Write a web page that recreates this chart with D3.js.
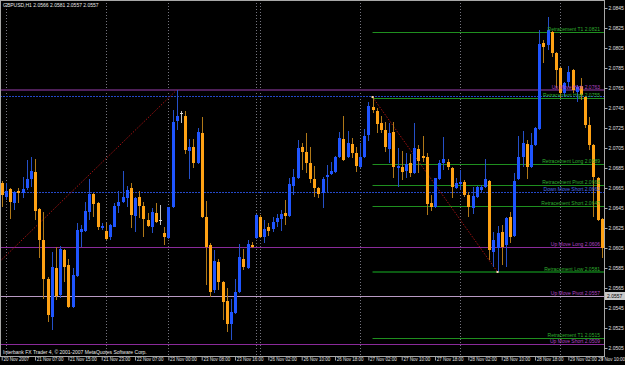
<!DOCTYPE html>
<html><head><meta charset="utf-8">
<script src="https://cdn.jsdelivr.net/npm/d3@7/dist/d3.min.js"></script>
<style>html,body{margin:0;padding:0;background:#000;overflow:hidden}svg{display:block}</style>
</head><body>
<svg id="c" width="625" height="365"></svg>
<script>
// ---------- DATA ----------
const symbolTitle = "GBPUSD,H1  2.0566 2.0581 2.0557 2.0557";
const copyright = "Interbank FX Trader 4, © 2001-2007 MetaQuotes Software Corp.";
const opens = [2.0670,2.0656,2.0664,2.0650,2.0662,2.0660,2.0665,2.0674,2.0681,2.0644,
2.0613,2.0574,2.0536,2.0585,2.0558,2.0603,2.0588,2.0546,2.0577,2.0621,
2.0622,2.0641,2.0659,2.0650,2.0625,2.0622,2.0616,2.0626,2.0647,2.0651,
2.0655,2.0665,2.0637,2.0656,2.0647,2.0633,2.0626,2.0640,2.0633,2.0620,
2.0615,2.0646,2.0732,2.0740,2.0737,2.0702,2.0706,2.0690,2.0720,2.0636,
2.0608,2.0563,2.0591,2.0571,2.0552,2.0529,2.0540,2.0561,2.0594,2.0585,
2.0608,2.0615,2.0636,2.0616,2.0626,2.0624,2.0631,2.0634,2.0640,2.0637,
2.0667,2.0675,2.0706,2.0701,2.0690,2.0674,2.0665,2.0660,2.0676,2.0679,
2.0681,2.0696,2.0714,2.0696,2.0709,2.0700,2.0686,2.0696,2.0718,2.0746,
2.0742,2.0730,2.0723,2.0704,2.0721,2.0685,2.0686,2.0682,2.0690,2.0680,
2.0704,2.0697,2.0696,2.0650,2.0646,2.0674,2.0690,2.0691,2.0685,2.0665,
2.0669,2.0671,2.0658,2.0645,2.0656,2.0663,2.0666,2.0672,2.0601,2.0605,
2.0621,2.0608,2.0636,2.0617,2.0674,2.0696,2.0709,2.0686,2.0708,2.0724,
2.0810,2.0808,2.0821,2.0800,2.0785,2.0760,2.0771,2.0783,2.0761,2.0767,
2.0756,2.0728,2.0708,2.0675,2.0634];
const highs = [2.0672,2.0670,2.0665,2.0662,2.0665,2.0676,2.0693,2.0696,2.0694,2.0645,
2.0641,2.0576,2.0601,2.0606,2.0607,2.0604,2.0594,2.0585,2.0630,2.0628,
2.0651,2.0674,2.0660,2.0651,2.0630,2.0630,2.0629,2.0650,2.0662,2.0682,
2.0667,2.0670,2.0656,2.0662,2.0651,2.0640,2.0645,2.0650,2.0648,2.0626,
2.0646,2.0743,2.0763,2.0742,2.0742,2.0714,2.0714,2.0725,2.0736,2.0652,
2.0610,2.0603,2.0594,2.0572,2.0565,2.0554,2.0574,2.0609,2.0604,2.0613,
2.0611,2.0639,2.0638,2.0633,2.0630,2.0636,2.0639,2.0643,2.0653,2.0675,
2.0684,2.0713,2.0710,2.0720,2.0706,2.0687,2.0666,2.0676,2.0688,2.0691,
2.0697,2.0721,2.0737,2.0722,2.0715,2.0706,2.0710,2.0724,2.0751,2.0756,
2.0745,2.0737,2.0731,2.0730,2.0731,2.0705,2.0702,2.0700,2.0699,2.0730,
2.0708,2.0717,2.0700,2.0658,2.0675,2.0693,2.0716,2.0694,2.0686,2.0675,
2.0683,2.0673,2.0661,2.0666,2.0667,2.0668,2.0694,2.0673,2.0621,2.0627,
2.0628,2.0636,2.0641,2.0680,2.0717,2.0722,2.0713,2.0720,2.0726,2.0823,
2.0813,2.0836,2.0822,2.0801,2.0786,2.0771,2.0787,2.0784,2.0768,2.0775,
2.0757,2.0736,2.0709,2.0676,2.0635];
const lows = [2.0646,2.0653,2.0634,2.0643,2.0650,2.0655,2.0663,2.0666,2.0633,2.0595,
2.0554,2.0531,2.0523,2.0553,2.0555,2.0571,2.0545,2.0545,2.0576,2.0606,
2.0621,2.0633,2.0636,2.0623,2.0623,2.0613,2.0613,2.0626,2.0640,2.0650,
2.0646,2.0625,2.0621,2.0635,2.0616,2.0626,2.0620,2.0630,2.0628,2.0608,
2.0614,2.0645,2.0723,2.0730,2.0699,2.0674,2.0685,2.0689,2.0635,2.0568,
2.0556,2.0560,2.0563,2.0533,2.0521,2.0513,2.0539,2.0560,2.0583,2.0584,
2.0605,2.0614,2.0615,2.0610,2.0617,2.0621,2.0626,2.0622,2.0628,2.0636,
2.0658,2.0674,2.0683,2.0680,2.0670,2.0656,2.0655,2.0645,2.0660,2.0678,
2.0680,2.0695,2.0692,2.0695,2.0695,2.0681,2.0685,2.0695,2.0712,2.0740,
2.0720,2.0720,2.0701,2.0690,2.0675,2.0666,2.0673,2.0675,2.0676,2.0679,
2.0680,2.0691,2.0638,2.0642,2.0645,2.0673,2.0683,2.0683,2.0655,2.0664,
2.0663,2.0656,2.0636,2.0639,2.0655,2.0661,2.0665,2.0593,2.0586,2.0581,
2.0588,2.0586,2.0610,2.0616,2.0673,2.0686,2.0674,2.0685,2.0707,2.0723,
2.0790,2.0803,2.0796,2.0765,2.0755,2.0756,2.0766,2.0760,2.0751,2.0753,
2.0725,2.0703,2.0636,2.0632,2.0595];
const closes = [2.0658,2.0662,2.0651,2.0661,2.0660,2.0664,2.0674,2.0682,2.0642,2.0613,
2.0574,2.0538,2.0586,2.0557,2.0604,2.0586,2.0546,2.0578,2.0623,2.0624,
2.0642,2.0659,2.0649,2.0626,2.0627,2.0614,2.0628,2.0647,2.0651,2.0656,
2.0663,2.0638,2.0655,2.0647,2.0634,2.0627,2.0641,2.0631,2.0633,2.0616,
2.0646,2.0731,2.0737,2.0740,2.0703,2.0706,2.0690,2.0721,2.0636,2.0606,
2.0561,2.0592,2.0571,2.0551,2.0529,2.0541,2.0561,2.0596,2.0586,2.0609,
2.0606,2.0638,2.0616,2.0624,2.0622,2.0631,2.0635,2.0639,2.0637,2.0669,
2.0676,2.0705,2.0701,2.0690,2.0674,2.0665,2.0659,2.0674,2.0678,2.0682,
2.0696,2.0715,2.0693,2.0710,2.0700,2.0687,2.0696,2.0717,2.0747,2.0743,
2.0729,2.0723,2.0706,2.0720,2.0686,2.0687,2.0681,2.0689,2.0680,2.0705,
2.0692,2.0695,2.0649,2.0646,2.0675,2.0690,2.0694,2.0686,2.0666,2.0670,
2.0671,2.0658,2.0646,2.0657,2.0666,2.0666,2.0674,2.0603,2.0613,2.0620,
2.0606,2.0635,2.0616,2.0672,2.0696,2.0710,2.0686,2.0708,2.0725,2.0809,
2.0806,2.0823,2.0800,2.0783,2.0760,2.0770,2.0781,2.0763,2.0766,2.0758,
2.0728,2.0708,2.0676,2.0633,2.0605];

const timeLabelIdx = [0,8,16,24,32,40,48,56,64,72,80,88,96,104,112,120,128,136,144];
const timeLabels = ["20 Nov 2007","21 Nov 07:00","21 Nov 15:00","21 Nov 23:00","22 Nov 07:00",
"23 Nov 00:00","23 Nov 08:00","23 Nov 16:00","26 Nov 02:00","26 Nov 10:00","26 Nov 18:00",
"27 Nov 02:00","27 Nov 10:00","27 Nov 18:00","28 Nov 02:00","28 Nov 10:00","28 Nov 18:00",
"29 Nov 02:00","29 Nov 10:00"];
const separatorIdx = [1,25,40,61,62,86,110,134];
const priceTicks = [2.0845,2.0825,2.0805,2.0785,2.0765,2.0745,2.0725,2.0705,2.0685,2.0665,
2.0645,2.0625,2.0605,2.0585,2.0565,2.0545,2.0525,2.0505];
const bidPrice = 2.0557;

const levelNames = ["Retracement  T1","Up Move High","Retracement High","Retracement Long",
"Retracement Pivot","Down Move Short","Retracement Short","Up Move Long","Retracement Low",
"Up Move Pivot","Retracement  T1","Up Move Short"];
const levelValues = [2.0821,2.0763,2.0755,2.0689,2.0668,2.0661,2.0647,2.0606,2.0581,2.0557,2.0515,2.0509];
const levelKinds = ["retr","upHigh","retr","retr","retr","down","retr","up","retrLow","up","retr","up"];
const levelStartIdx = [89,null,89,89,89,null,89,null,89,null,89,null];
const extraLineValues = [2.0757];

const zigzag1Idx = [-60,42], zigzag1Price = [2.0351,2.0763];
const zigzag2Idx = [89,119], zigzag2Price = [2.0756,2.0581];

// ---------- DRAW ----------
const W = 625, H = 365, plotR = 604, plotB = 356;
const svg = d3.select("#c");
svg.append("rect").attr("width",W).attr("height",H).attr("fill","#000");
const x = d3.scaleLinear().domain([0,144]).range([1.7,601.7]);
const y = d3.scaleLinear().domain([2.0501,2.0853]).range([352,0]);
const font = "'Liberation Sans', Arial, sans-serif";

svg.append("clipPath").attr("id","pc").append("rect")
  .attr("x",1).attr("y",1).attr("width",plotR-1).attr("height",plotB-1);
const g = svg.append("g").attr("clip-path","url(#pc)");

// period separators
g.selectAll("line.sep").data(separatorIdx).join("line")
  .attr("x1",d=>Math.round(x(d))+0.5).attr("x2",d=>Math.round(x(d))+0.5)
  .attr("y1",0).attr("y2",plotB)
  .attr("stroke","#74747e").attr("stroke-dasharray","1,2").attr("stroke-width",1);

// level lines
const lineStyle = {
  retr:{c:"#1f8f1f",w:1,dash:null}, retrLow:{c:"#0b5a12",w:2,dash:null},
  up:{c:"#8a2a9a",w:1,dash:null}, upHigh:{c:"#4e1f58",w:2,dash:null},
  down:{c:"#2448c8",w:1,dash:"2,1"}
};
const textStyle = {retr:"#2fae2f",retrLow:"#2fae2f",up:"#b245c4",upHigh:"#b245c4",down:"#4a6ae8"};
levelValues.forEach((v,i)=>{
  const s = lineStyle[levelKinds[i]];
  const x0 = levelStartIdx[i]==null ? 0 : x(levelStartIdx[i]);
  const yy = Math.round(y(v)) + (s.w%2 ? 0.5 : 0);
  g.append("line").attr("x1",x0).attr("x2",plotR).attr("y1",yy).attr("y2",yy)
    .attr("stroke",s.c).attr("stroke-width",s.w).attr("stroke-dasharray",s.dash);
});
extraLineValues.forEach(v=>{
  const yy = Math.round(y(v))+0.5;
  g.append("line").attr("x1",0).attr("x2",plotR).attr("y1",yy).attr("y2",yy)
   .attr("stroke","#2448c8").attr("stroke-dasharray","2,1");
});
// bid line
g.append("line").attr("x1",0).attr("x2",plotR)
  .attr("y1",Math.round(y(bidPrice))+0.5).attr("y2",Math.round(y(bidPrice))+0.5)
  .attr("stroke","#c8c0d0").attr("stroke-opacity",0.75);

// zigzag
const zz = (idx,pr)=>{
  g.append("line").attr("x1",x(idx[0])).attr("y1",y(pr[0])).attr("x2",x(idx[1])).attr("y2",y(pr[1]))
   .attr("stroke","#a01212").attr("stroke-width",1).attr("stroke-dasharray","1.5,1.5");
};
zz(zigzag1Idx,zigzag1Price); zz(zigzag2Idx,zigzag2Price);

// candles
const bars = d3.range(opens.length).map(i=>({i,o:opens[i],h:highs[i],l:lows[i],c:closes[i]}));
const kind = d=> d.c>d.o ? "bull" : (d.c<d.o ? "bear" : "doji");
const wickCol = {bull:"#2550c8",bear:"#b07818",doji:"#c0c0c0"};
const bodyCol = {bull:"#1f55ff",bear:"#ffa214",doji:"#d8d8d8"};
g.selectAll("line.wick").data(bars).join("line")
  .attr("x1",d=>Math.round(x(d.i))+0.5).attr("x2",d=>Math.round(x(d.i))+0.5)
  .attr("y1",d=>y(d.h)).attr("y2",d=>y(d.l))
  .attr("stroke",d=>wickCol[kind(d)]).attr("stroke-width",1);
g.selectAll("rect.body").data(bars).join("rect")
  .attr("x",d=>Math.round(x(d.i))-1).attr("width",3)
  .attr("y",d=>y(Math.max(d.o,d.c)))
  .attr("height",d=>Math.max(1,y(Math.min(d.o,d.c))-y(Math.max(d.o,d.c))))
  .attr("fill",d=>bodyCol[kind(d)]);

// zigzag vertices
[[zigzag2Idx[0],zigzag2Price[0]],[zigzag2Idx[1],zigzag2Price[1]]].forEach(p=>{
  g.append("rect").attr("x",x(p[0])-1).attr("y",y(p[1])-1).attr("width",2).attr("height",2).attr("fill","#ffd8b0");
});

// level labels
levelValues.forEach((v,i)=>{
  g.append("text").attr("x",600).attr("y",y(v)-1.5).attr("text-anchor","end")
   .attr("font-family",font).attr("font-size",5).attr("fill",textStyle[levelKinds[i]])
   .text(levelNames[i]+"   "+v.toFixed(4));
});

// texts in plot
svg.append("text").attr("x",3).attr("y",7).attr("font-family",font).attr("font-size",5)
  .attr("fill","#e8e8e8").text(symbolTitle);
svg.append("text").attr("x",3).attr("y",353.5).attr("font-family",font).attr("font-size",5)
  .attr("fill","#e8e8e8").text(copyright);

// frame
svg.append("rect").attr("x",0.5).attr("y",0.5).attr("width",plotR).attr("height",plotB)
  .attr("fill","none").attr("stroke","#a8a8a8");

// right axis
const ya = d3.axisRight(y).tickValues(priceTicks).tickFormat(d3.format(".4f")).tickSize(3).tickPadding(1);
const yg = svg.append("g").attr("transform",`translate(${plotR+0.5},0)`).call(ya);
yg.select(".domain").remove();
yg.selectAll("line").attr("stroke","#a8a8a8");
yg.selectAll("text").attr("font-family",font).attr("font-size",5).attr("fill","#e0e0e0");

// bid tag
svg.append("rect").attr("x",plotR+1).attr("y",y(bidPrice)-4).attr("width",20).attr("height",8).attr("fill","#c8c8c8");
svg.append("text").attr("x",plotR+3).attr("y",y(bidPrice)+2).attr("font-family",font).attr("font-size",5)
  .attr("fill","#000").text(bidPrice.toFixed(4));

// bottom axis
const xa = d3.axisBottom(x).tickValues(timeLabelIdx).tickFormat((d,i)=>timeLabels[i]).tickSize(4).tickPadding(0);
const xg = svg.append("g").attr("transform",`translate(0,${plotB+0.5})`).call(xa);
xg.select(".domain").remove();
xg.selectAll("line").attr("stroke","#a8a8a8");
const last = timeLabelIdx.length-1;
xg.selectAll("text").attr("font-family",font).attr("font-size",4.5).attr("fill","#e0e0e0")
  .attr("text-anchor",(d,i)=> i===last ? "end" : "start")
  .attr("dx",(d,i)=> i===last ? (W-0.5-x(d)) : 1.2)
  .attr("y",1).attr("dy","0.71em");
</script>
</body></html>
